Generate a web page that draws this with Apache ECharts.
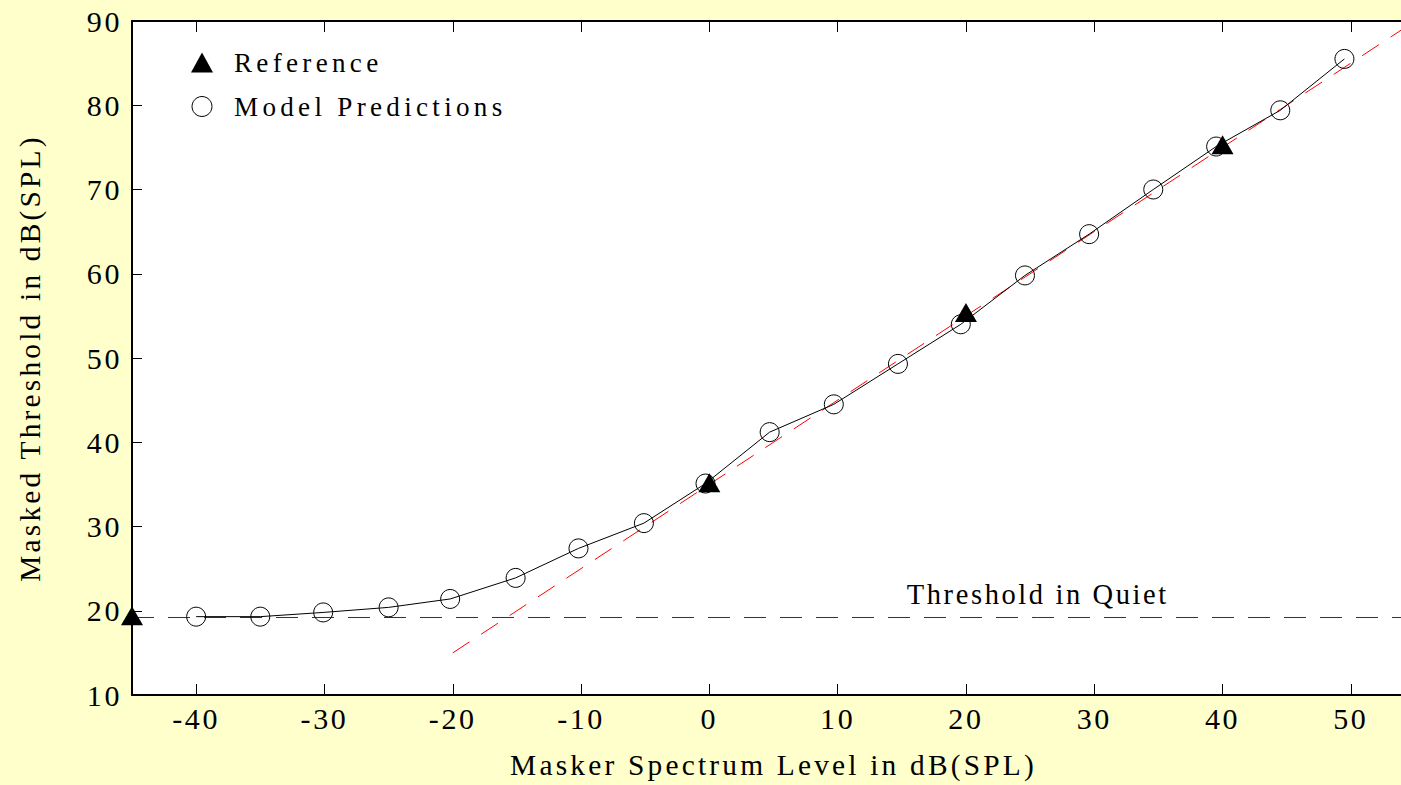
<!DOCTYPE html>
<html>
<head>
<meta charset="utf-8">
<script src="https://cdn.jsdelivr.net/npm/echarts@6/dist/echarts.min.js"></script>
<style>
html,body{margin:0;padding:0;background:#FFFFCC;}
#chart{width:1401px;height:785px;}
#chart text{letter-spacing:2.6px;}
#chart text[style*="27.1px"], #chart text[font-size="27.1"], #chart text[font-size="27.1px"]{letter-spacing:4.3px;}
#chart text[style*="29.4px"], #chart text[font-size="29.4"], #chart text[font-size="29.4px"]{letter-spacing:3.2px;}
</style>
</head>
<body>
<div id="chart"></div>
<script>
// ---- data ----
const xAxisName = 'Masker Spectrum Level in dB(SPL)';
const yAxisName = 'Masked Threshold in dB(SPL)';
const xMin = -45, xMax = 55;
const xTickValues = [-40, -30, -20, -10, 0, 10, 20, 30, 40, 50];
const yMin = 10, yMax = 90, yStep = 10;

const modelX = [-40, -35, -30.1, -25, -20.2, -15.1, -10.2, -5.1, -0.3, 4.7, 9.7, 14.7, 19.6, 24.6, 29.6, 34.6, 39.5, 44.5, 49.5];
const modelY = [19.3, 19.3, 19.8, 20.4, 21.4, 23.9, 27.4, 30.4, 35.1, 41.2, 44.5, 49.3, 54.0, 59.8, 64.7, 70.0, 75.1, 79.4, 85.5];

const refX = [-45, 0, 20, 40];
const refY = [19.4, 35.2, 55.4, 75.3];

const quietLevel = 19.2;
const quietX = [-45, 25.6, 55];
const quietLabel = 'Threshold in Quiet';

const fitX = [-20, 55];
const fitY = [15, 90];

const legendNames = ['Reference', 'Model Predictions'];

// ---- chart ----
const font = "'Liberation Serif', 'Times New Roman', serif";
const chart = echarts.init(document.getElementById('chart'), null, {renderer: 'svg'});

const zip = (a, b) => a.map((v, i) => [v, b[i]]);

chart.setOption({
  backgroundColor: '#FFFFCC',
  animation: false,
  textStyle: {fontFamily: font, color: '#000'},
  grid: {left: 132, top: 21, bottom: 90, right: -14, outerBoundsMode: 'none', containLabel: false,
    show: true, backgroundColor: '#fff', borderWidth: 0},
  legend: {
    orient: 'vertical', left: 186, top: 44, itemWidth: 22, itemHeight: 20, itemGap: 17,
    textStyle: {fontFamily: font, fontSize: 27.1, color: '#000', padding: [0, 0, 0, 16]},
    data: [
      {name: legendNames[0], icon: 'triangle', itemStyle: {color: '#000', borderWidth: 0, opacity: 1}},
      {name: legendNames[1], icon: 'circle', itemStyle: {color: 'rgba(0,0,0,0)', borderColor: '#000', borderWidth: 1}}
    ]
  },
  xAxis: [{
    type: 'value', min: xMin, max: xMax, position: 'bottom',
    name: xAxisName, nameLocation: 'middle', nameGap: 55,
    nameTextStyle: {fontFamily: font, fontSize: 29.4, color: '#000'},
    axisLine: {show: true, onZero: false, lineStyle: {color: '#000', width: 2}},
    axisTick: {show: true, inside: true, length: 11, customValues: xTickValues, lineStyle: {color: '#000', width: 1}},
    axisLabel: {fontFamily: font, fontSize: 30, color: '#000', margin: 8, customValues: xTickValues},
    splitLine: {show: false}
  }, {
    type: 'value', min: xMin, max: xMax, position: 'top',
    axisLine: {show: true, onZero: false, lineStyle: {color: '#000', width: 2}},
    axisTick: {show: true, inside: true, length: 11, customValues: xTickValues, lineStyle: {color: '#000', width: 1}},
    axisLabel: {show: false}, splitLine: {show: false}
  }],
  yAxis: [{
    type: 'value', min: yMin, max: yMax, interval: yStep, position: 'left',
    name: yAxisName, nameLocation: 'middle', nameGap: 88, nameRotate: 90,
    nameTextStyle: {fontFamily: font, fontSize: 29.4, color: '#000'},
    axisLine: {show: true, onZero: false, lineStyle: {color: '#000', width: 2}},
    axisTick: {show: true, inside: true, length: 10, lineStyle: {color: '#000', width: 1}},
    axisLabel: {fontFamily: font, fontSize: 30, color: '#000', margin: 10},
    splitLine: {show: false}
  }, {
    type: 'value', min: yMin, max: yMax, interval: yStep, position: 'right',
    axisLine: {show: true, onZero: false, lineStyle: {color: '#000', width: 2}},
    axisTick: {show: true, inside: true, length: 10, lineStyle: {color: '#000', width: 1}},
    axisLabel: {show: false}, splitLine: {show: false}
  }],
  series: [
    {
      name: 'quiet', type: 'line', xAxisIndex: 0, yAxisIndex: 0,
      data: quietX.map((x, i) => ({
        value: [x, quietLevel],
        label: i === 1 ? {show: true, position: 'top', distance: 8, formatter: quietLabel,
          fontFamily: font, fontSize: 28.5, color: '#000'} : {show: false}
      })),
      showSymbol: true, showAllSymbol: true, symbol: 'circle', symbolSize: 1,
      itemStyle: {color: 'rgba(0,0,0,0)'},
      lineStyle: {color: '#333', width: 1, type: [22, 14]}, z: 1, silent: true
    },
    {
      name: 'fit', type: 'line', data: zip(fitX, fitY), symbol: 'none',
      lineStyle: {color: '#ff0000', width: 1, type: [20, 14]}, z: 2, silent: true
    },
    {
      name: legendNames[1], type: 'line', data: zip(modelX, modelY),
      symbol: 'circle', symbolSize: 19, showSymbol: true,
      itemStyle: {color: 'rgba(0,0,0,0)', borderColor: '#000', borderWidth: 1},
      lineStyle: {color: '#000', width: 1}, z: 3
    },
    {
      name: legendNames[0], type: 'scatter', data: zip(refX, refY),
      symbol: 'triangle', symbolSize: [22, 19],
      itemStyle: {color: '#000', opacity: 1}, z: 4
    }
  ]
});
</script>
</body>
</html>
